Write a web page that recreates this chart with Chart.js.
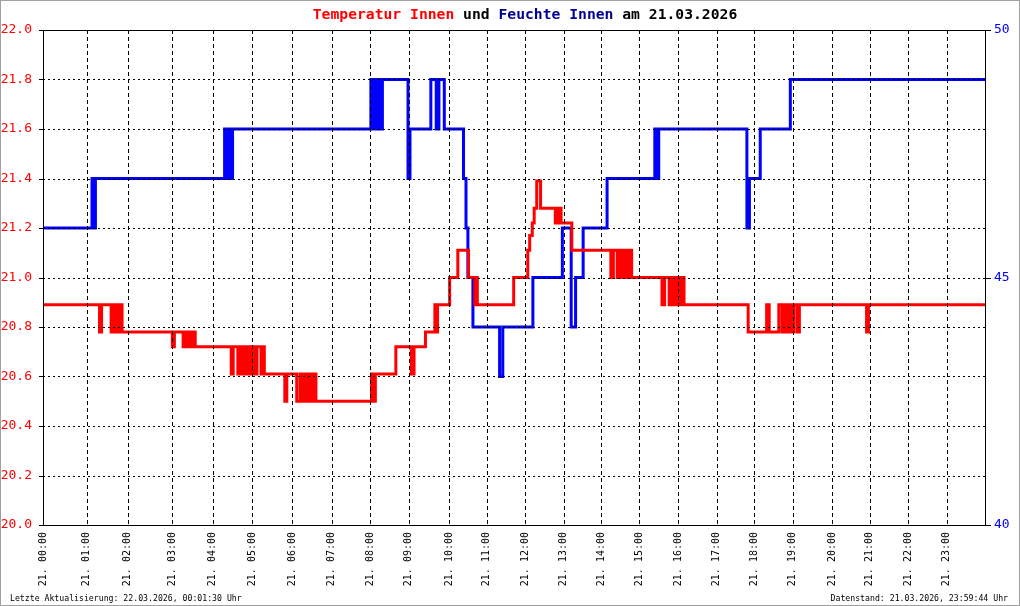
<!DOCTYPE html>
<html>
<head>
<meta charset="utf-8">
<title>Temperatur und Feuchte Innen</title>
<script src="https://cdn.jsdelivr.net/npm/chart.js@4/dist/chart.umd.min.js"></script>
<style>
body{margin:0;background:#fff;}
#rahmen{width:1018px;height:604px;border:1px solid #a0a0a0;}
canvas{display:block;}
</style>
</head>
<body>
<div id="rahmen"><canvas id="innen_chart" width="1018" height="604"></canvas></div>
<script>
//*****************************daten************************************ */
// Anzahl Datensaetze im Log pro Stunde (x-Achse laeuft ueber den Datensatz-Index)
let messungenProStunde = [68,64,70,63,62,62,62,60,60,63,59,60,60,59,59,61,60,59,60,61,59,60,60,60];

let xBeschriftung = ["21. 00:00","21. 01:00","21. 02:00","21. 03:00","21. 04:00","21. 05:00",
	"21. 06:00","21. 07:00","21. 08:00","21. 09:00","21. 10:00","21. 11:00",
	"21. 12:00","21. 13:00","21. 14:00","21. 15:00","21. 16:00","21. 17:00",
	"21. 18:00","21. 19:00","21. 20:00","21. 21:00","21. 22:00","21. 23:00"];

// Temperatur Innen (Wert gilt ab Zeitpunkt)
let tempInnen = [
	['00:00',20.89],
	['01:19',20.78],['01:22',20.89],
	['01:36',20.78],['01:39',20.89],['01:42',20.78],['01:45',20.89],['01:48',20.78],['01:50',20.89],['01:52',20.78],
	['03:00',20.72],['03:03',20.78],
	['03:16',20.72],['03:19',20.78],['03:22',20.72],['03:25',20.78],['03:28',20.72],['03:31',20.78],['03:34',20.72],
	['04:28',20.61],['04:31',20.72],
	['04:38',20.61],['04:41',20.72],['04:44',20.61],['04:48',20.72],['04:51',20.61],['04:54',20.72],['04:57',20.61],
	['05:00',20.72],['05:03',20.61],['05:07',20.72],['05:13',20.61],['05:16',20.72],['05:18',20.61],
	['05:49',20.50],['05:52',20.61],
	['06:07',20.50],['06:12',20.61],['06:14',20.50],['06:16',20.61],['06:18',20.50],['06:21',20.61],['06:24',20.50],
	['06:27',20.61],['06:31',20.50],['06:33',20.61],['06:36',20.50],
	['08:02',20.61],['08:05',20.50],['08:08',20.61],
	['08:40',20.72],
	['09:04',20.61],['09:08',20.72],
	['09:25',20.78],
	['09:39',20.89],['09:42',20.78],['09:43',20.89],
	['10:01',21.00],
	['10:14',21.11],
	['10:31',21.00],
	['10:41',20.89],['10:43',21.00],['10:45',20.89],
	['11:42',21.00],
	['12:04',21.11],['12:07',21.17],['12:11',21.22],['12:14',21.28],
	['12:18',21.39],['12:24',21.28],
	['12:47',21.22],['12:49',21.28],['12:52',21.22],['12:54',21.28],['12:56',21.22],
	['13:13',21.11],
	['14:15',21.00],['14:19',21.11],['14:25',21.00],['14:29',21.11],['14:32',21.00],['14:34',21.11],['14:36',21.00],
	['14:37',21.11],['14:41',21.00],['14:44',21.11],['14:48',21.00],
	['15:35',20.89],['15:39',21.00],['15:46',20.89],['15:49',21.00],['15:52',20.89],['15:55',21.00],['15:58',20.89],
	['16:01',21.00],['16:03',20.89],['16:06',21.00],['16:09',20.89],
	['17:50',20.78],
	['18:19',20.89],['18:23',20.78],['18:38',20.89],['18:43',20.78],['18:46',20.89],['18:49',20.78],['18:51',20.89],
	['18:53',20.78],['18:56',20.89],['18:59',20.78],['19:01',20.89],['19:06',20.78],['19:10',20.89],
	['20:55',20.78],['20:58',20.89],
	['24:00',20.89]
];

// Feuchte Innen in % (Wert gilt ab Zeitpunkt)
let feuchteInnen = [
	['00:00',46],
	['01:08',47],['01:10',46],['01:13',47],
	['04:18',48],['04:21',47],['04:24',48],['04:27',47],['04:30',48],
	['08:01',49],['08:04',48],['08:07',49],['08:10',48],['08:13',49],['08:16',48],['08:19',49],
	['08:59',47],['09:02',48],
	['09:33',49],['09:41',48],['09:45',49],['09:53',48],
	['10:23',47],['10:27',46],['10:30',45],['10:38',44],
	['11:20',43],['11:25',44],
	['12:12',45],
	['12:58',46],
	['13:12',44],['13:19',45],
	['13:31',46],
	['14:09',47],
	['15:24',48],['15:27',47],['15:30',48],
	['17:48',46],['17:52',47],
	['18:09',48],
	['18:56',49],
	['24:00',49]
];

let tempMin = 20, tempMax = 22, tempSchritt = 0.2;
let feuchteMin = 40, feuchteMax = 50, feuchteSchritt = 5;

let titelTeile = [["Temperatur Innen","#ff0000"],[" und ","#000000"],["Feuchte Innen","#000090"],[" am 21.03.2026","#000000"]];
let fussLinks = "Letzte Aktualisierung: 22.03.2026, 00:01:30 Uhr";
let fussRechts = "Datenstand: 21.03.2026, 23:59:44 Uhr";

//*****************************zeit -> index************************************ */
let stundenStart = [0];
for (let i = 0; i < messungenProStunde.length; i++) {
	stundenStart.push(stundenStart[i] + messungenProStunde[i]);
}

function zeitIndex(zeit){
	let h = parseInt(zeit.substr(0,2)), m = parseInt(zeit.substr(3,2));
	if (h >= 24) return stundenStart[24];
	return stundenStart[h] + m / 60 * messungenProStunde[h];
}

function punkte(liste){
	return liste.map(function(e) {
		return {x: zeitIndex(e[0]), y: e[1]};
	});
}

//*****************************plugins************************************ */
const schrift = '"DejaVu Sans Mono", "Liberation Mono", monospace';

function linie(ctx, x1, y1, x2, y2){
	ctx.beginPath();
	ctx.moveTo(x1, y1);
	ctx.lineTo(x2, y2);
	ctx.stroke();
}

const gitterPlugin = {
	id: 'gitter',
	afterDatasetsDraw(chart){
		const ctx = chart.ctx, a = chart.chartArea;
		const sx = chart.scales.x, sy = chart.scales.y, sy1 = chart.scales.y1;
		ctx.save();
		ctx.strokeStyle = '#000000';
		ctx.lineWidth = 1;

		// waagrechte punktlinien
		ctx.setLineDash([2,3]);
		sy.ticks.forEach(function(t, i) {
			if (i == 0 || i == sy.ticks.length - 1) return;
			let y = Math.round(sy.getPixelForValue(t.value)) + 0.5;
			linie(ctx, a.left, y, a.right, y);
		});

		// senkrechte strichlinien (stunden)
		ctx.setLineDash([4,3]);
		sx.ticks.forEach(function(t, i) {
			if (i == 0) return;
			let x = Math.round(sx.getPixelForValue(t.value)) + 0.5;
			linie(ctx, x, a.top, x, a.bottom);
		});

		// rahmen + achsen-striche
		ctx.setLineDash([]);
		ctx.strokeRect(a.left + 0.5, a.top + 0.5, a.right - a.left, a.bottom - a.top);
		sy.ticks.forEach(function(t) {
			let y = Math.round(sy.getPixelForValue(t.value)) + 0.5;
			linie(ctx, a.left - 4, y, a.left, y);
		});
		sy1.ticks.forEach(function(t) {
			let y = Math.round(sy1.getPixelForValue(t.value)) + 0.5;
			linie(ctx, a.right, y, a.right + 6, y);
		});
		ctx.restore();
	},
	afterDraw(chart){
		const ctx = chart.ctx;
		ctx.save();
		// titel mehrfarbig
		ctx.font = 'bold 14.7px ' + schrift;
		ctx.textBaseline = 'alphabetic';
		ctx.textAlign = 'left';
		let breite = 0;
		titelTeile.forEach(function(t) { breite += ctx.measureText(t[0]).width; });
		let x = 524 - breite / 2;
		titelTeile.forEach(function(t) {
			ctx.fillStyle = t[1];
			ctx.fillText(t[0], x, 17.5);
			x += ctx.measureText(t[0]).width;
		});

		// fusszeile
		ctx.font = '8.2px ' + schrift;
		ctx.fillStyle = '#000000';
		ctx.fillText(fussLinks, 9, 600);
		ctx.textAlign = 'right';
		ctx.fillText(fussRechts, 1007, 600);
		ctx.restore();
	}
};

//*****************************chart************************************ */
new Chart(document.getElementById("innen_chart"), {
	type: 'line',
	data: {
		datasets: [
			{
				label: 'Temperatur Innen',
				data: punkte(tempInnen),
				yAxisID: 'y',
				borderColor: '#ff0000',
				borderWidth: 3,
				stepped: true,
				pointRadius: 0,
				fill: false,
				borderJoinStyle: 'miter',
				borderCapStyle: 'butt'
			},
			{
				label: 'Feuchte Innen',
				data: punkte(feuchteInnen),
				yAxisID: 'y1',
				borderColor: '#0000ff',
				borderWidth: 3,
				stepped: true,
				pointRadius: 0,
				fill: false,
				borderJoinStyle: 'miter',
				borderCapStyle: 'butt'
			}
		]
	},
	options: {
		responsive: false,
		animation: false,
		layout: { padding: { top: 29, left: 0, right: 0, bottom: 0 } },
		plugins: {
			legend: { display: false },
			tooltip: { enabled: false }
		},
		scales: {
			x: {
				type: 'linear',
				min: 0,
				max: stundenStart[24],
				afterBuildTicks: function(s) {
					s.ticks = stundenStart.slice(0, 24).map(function(v) { return {value: v}; });
				},
				afterFit: function(s) { s.height = 80; },
				grid: { display: false, drawTicks: false },
				border: { display: false },
				ticks: {
					autoSkip: false,
					minRotation: 90,
					maxRotation: 90,
					padding: 7,
					color: '#000000',
					font: { family: schrift, size: 10 },
					callback: function(v, i) { return xBeschriftung[i]; }
				}
			},
			y: {
				position: 'left',
				min: tempMin,
				max: tempMax,
				afterFit: function(s) { s.width = 42; },
				grid: { display: false, drawTicks: false },
				border: { display: false },
				ticks: {
					stepSize: tempSchritt,
					padding: 11,
					color: '#ff0000',
					font: { family: schrift, size: 13 },
					callback: function(v) { return v.toFixed(1); }
				}
			},
			y1: {
				position: 'right',
				min: feuchteMin,
				max: feuchteMax,
				afterFit: function(s) { s.width = 34; },
				grid: { display: false, drawTicks: false },
				border: { display: false },
				ticks: {
					stepSize: feuchteSchritt,
					padding: 9,
					color: '#0000ff',
					font: { family: schrift, size: 13 },
					callback: function(v) { return v; }
				}
			}
		}
	},
	plugins: [gitterPlugin]
});
</script>
</body>
</html>
